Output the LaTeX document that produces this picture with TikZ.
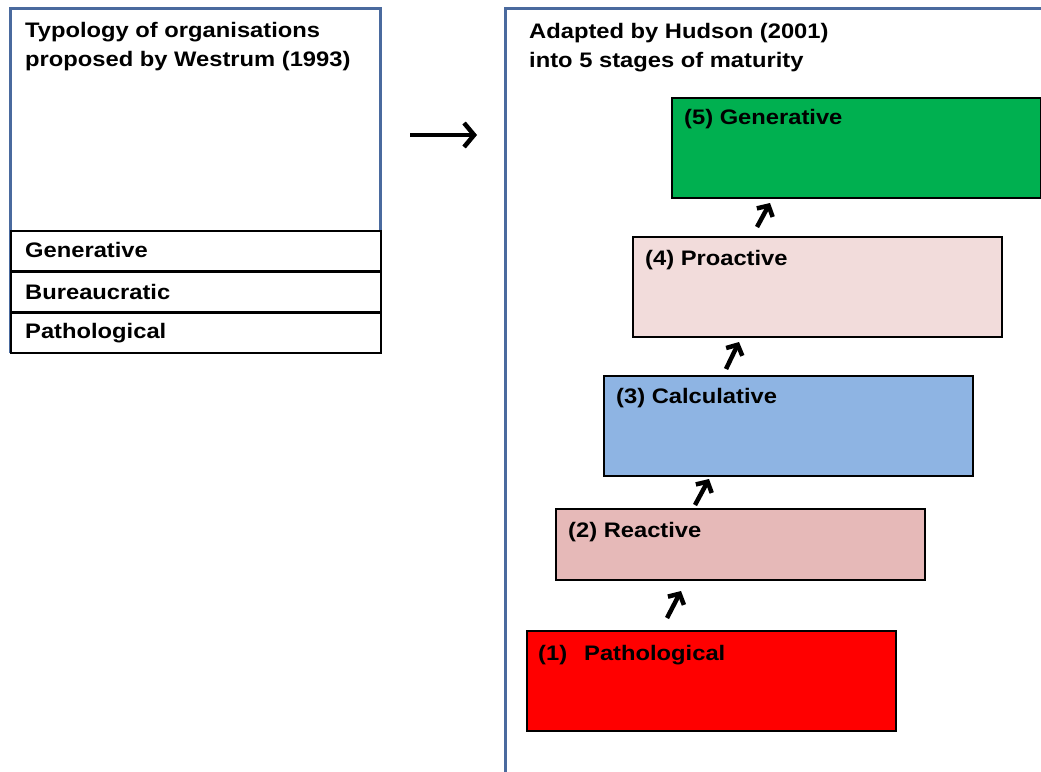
\documentclass[tikz,border=0pt]{standalone}
\usepackage{fontspec}
\setmainfont[FakeStretch=1.13]{Liberation Sans}
\usetikzlibrary{arrows.meta}

\definecolor{panelblue}{RGB}{74,106,158}
\definecolor{stagegreen}{RGB}{0,176,80}
\definecolor{stagepink}{RGB}{242,220,219}
\definecolor{stageblue}{RGB}{142,180,227}
\definecolor{stagerose}{RGB}{230,185,184}
\definecolor{stagered}{RGB}{255,0,0}

\tikzset{
  panel/.style={draw=panelblue, line width=3pt},
  typebox/.style={draw=black, line width=2pt, anchor=north west, minimum width=370pt, minimum height=40pt, inner sep=0pt},
  stagebox/.style={draw=black, line width=2pt, anchor=north west, minimum width=369pt, minimum height=100pt, inner sep=0pt},
  boxtext/.style={anchor=base west, inner sep=0pt, align=left, font=\fontsize{21}{29}\selectfont\bfseries},
  uparrow/.style={line width=4.5pt, -{Straight Barb[length=8pt,width=18pt]}},
}

\begin{document}
\begin{tikzpicture}[x=1pt,y=-1pt]
  \useasboundingbox (0,0) rectangle (1041,771);

  % the two panels
  \begin{scope}
    \clip (0,0) rectangle (1041,771);
    \draw[panel] (10,8) rectangle (380,351);
    \draw[panel] (505,8) rectangle (1100,830);
  \end{scope}

  \node[boxtext] (westrum) at (25,66) {Typology of organisations\\proposed by Westrum (1993)};
  \node[boxtext] (hudson) at (529,67) {Adapted by Hudson (2001)\\into 5 stages of maturity};

  % Westrum typology
  \node[typebox, fill=white] (wgen) at (10,230) {};
  \node[typebox, fill=white] (wbur) at (10,271) {};
  \node[typebox, fill=white] (wpat) at (10,312) {};
  \node[boxtext] (wgentext) at (25,257) {Generative};
  \node[boxtext] (wburtext) at (25,299) {Bureaucratic};
  \node[boxtext] (wpattext) at (25,338) {Pathological};

  % Hudson stages
  \node[stagebox, fill=stagegreen] (s5) at (671,97) {};
  \node[stagebox, fill=stagepink] (s4) at (632,236) {};
  \node[stagebox, fill=stageblue] (s3) at (603,375) {};
  \node[stagebox, fill=stagerose, minimum height=71pt] (s2) at (555,508) {};
  \node[stagebox, fill=stagered] (s1) at (526,630) {};

  \node[boxtext] (s5text) at (684,124) {(5) Generative};
  \node[boxtext] (s4text) at (645,265) {(4) Proactive};
  \node[boxtext] (s3text) at (616,403) {(3) Calculative};
  \node[boxtext] (s2text) at (568,537) {(2) Reactive};
  \node[boxtext] (s1text) at (538,660) {(1)\hspace{17pt}Pathological};

  % arrows
  \coordinate (mapfrom) at (410,135);
  \coordinate (mapto) at (477,135);
  \draw[line width=4.5pt, -{Straight Barb[length=10pt,width=24pt]}] (mapfrom) -- (mapto);

  \coordinate (up1) at (667,618);
  \coordinate (up2) at (681,591);
  \coordinate (up3) at (695,505);
  \coordinate (up4) at (709,479);
  \coordinate (up5) at (726,369);
  \coordinate (up6) at (739,342);
  \coordinate (up7) at (757,227);
  \coordinate (up8) at (770,203);
  \draw[uparrow] (up1) -- (up2);
  \draw[uparrow] (up3) -- (up4);
  \draw[uparrow] (up5) -- (up6);
  \draw[uparrow] (up7) -- (up8);

\end{tikzpicture}
\end{document}
